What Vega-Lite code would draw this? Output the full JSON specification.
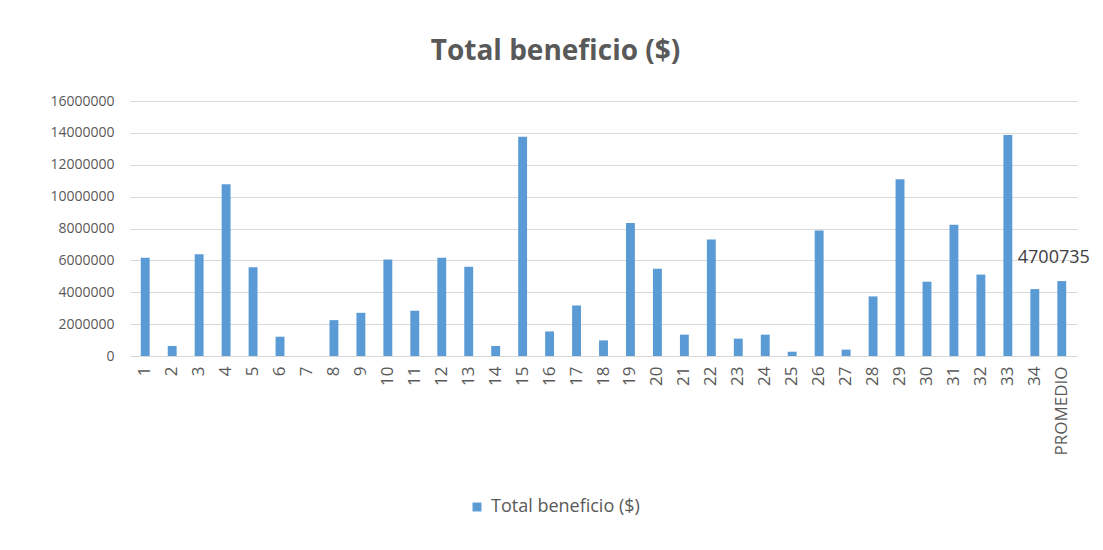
{
  "$schema": "https://vega.github.io/schema/vega-lite/v6.json",
  "autosize": {"type": "none"},
  "width": 947,
  "height": 255,
  "padding": {"left": 130, "top": 101, "right": 26, "bottom": 194},
  "background": "white",
  "title": {
    "text": "Total beneficio ($)",
    "font": "Open Sans",
    "fontSize": 28,
    "fontWeight": "bold",
    "color": "#595959",
    "anchor": "middle",
    "dx": -48,
    "offset": 28
  },
  "data": {
    "values": [
      {"k": "1", "v": 6160000, "s": "Total beneficio ($)"},
      {"k": "2", "v": 630000, "s": "Total beneficio ($)"},
      {"k": "3", "v": 6390000, "s": "Total beneficio ($)"},
      {"k": "4", "v": 10770000, "s": "Total beneficio ($)"},
      {"k": "5", "v": 5570000, "s": "Total beneficio ($)"},
      {"k": "6", "v": 1210000, "s": "Total beneficio ($)"},
      {"k": "7", "v": 0, "s": "Total beneficio ($)"},
      {"k": "8", "v": 2250000, "s": "Total beneficio ($)"},
      {"k": "9", "v": 2710000, "s": "Total beneficio ($)"},
      {"k": "10", "v": 6050000, "s": "Total beneficio ($)"},
      {"k": "11", "v": 2840000, "s": "Total beneficio ($)"},
      {"k": "12", "v": 6160000, "s": "Total beneficio ($)"},
      {"k": "13", "v": 5600000, "s": "Total beneficio ($)"},
      {"k": "14", "v": 630000, "s": "Total beneficio ($)"},
      {"k": "15", "v": 13760000, "s": "Total beneficio ($)"},
      {"k": "16", "v": 1540000, "s": "Total beneficio ($)"},
      {"k": "17", "v": 3170000, "s": "Total beneficio ($)"},
      {"k": "18", "v": 980000, "s": "Total beneficio ($)"},
      {"k": "19", "v": 8350000, "s": "Total beneficio ($)"},
      {"k": "20", "v": 5470000, "s": "Total beneficio ($)"},
      {"k": "21", "v": 1340000, "s": "Total beneficio ($)"},
      {"k": "22", "v": 7310000, "s": "Total beneficio ($)"},
      {"k": "23", "v": 1090000, "s": "Total beneficio ($)"},
      {"k": "24", "v": 1340000, "s": "Total beneficio ($)"},
      {"k": "25", "v": 270000, "s": "Total beneficio ($)"},
      {"k": "26", "v": 7870000, "s": "Total beneficio ($)"},
      {"k": "27", "v": 400000, "s": "Total beneficio ($)"},
      {"k": "28", "v": 3740000, "s": "Total beneficio ($)"},
      {"k": "29", "v": 11090000, "s": "Total beneficio ($)"},
      {"k": "30", "v": 4660000, "s": "Total beneficio ($)"},
      {"k": "31", "v": 8230000, "s": "Total beneficio ($)"},
      {"k": "32", "v": 5110000, "s": "Total beneficio ($)"},
      {"k": "33", "v": 13860000, "s": "Total beneficio ($)"},
      {"k": "34", "v": 4200000, "s": "Total beneficio ($)"},
      {"k": "PROMEDIO", "v": 4700735, "s": "Total beneficio ($)"}
    ]
  },
  "encoding": {
    "x": {
      "field": "k",
      "type": "ordinal",
      "sort": null,
      "scale": {"paddingInner": 0.67, "paddingOuter": 0.4},
      "axis": {
        "title": null,
        "labelAngle": -90,
        "labelFont": "Open Sans",
        "labelFontSize": 17,
        "labelColor": "#595959",
        "labelPadding": 10,
        "ticks": false,
        "domainColor": "#d9d9d9",
        "grid": false
      }
    },
    "y": {
      "field": "v",
      "type": "quantitative",
      "scale": {"domain": [0, 16000000]},
      "axis": {
        "title": null,
        "values": [0, 2000000, 4000000, 6000000, 8000000, 10000000, 12000000, 14000000, 16000000],
        "format": "d",
        "labelFont": "Open Sans",
        "labelFontSize": 14,
        "labelColor": "#595959",
        "labelPadding": 16,
        "ticks": false,
        "domain": false,
        "gridColor": "#d9d9d9",
        "gridWidth": 1
      }
    }
  },
  "layer": [
    {
      "mark": {"type": "bar"},
      "encoding": {
        "color": {
          "field": "s",
          "type": "nominal",
          "scale": {"range": ["#5B9BD5"]},
          "legend": {
            "title": null,
            "orient": "none",
            "legendX": 338,
            "legendY": 397,
            "symbolType": "square",
            "symbolSize": 80,
            "labelFont": "Open Sans",
            "labelFontSize": 18,
            "labelColor": "#595959",
            "labelOffset": 5
          }
        }
      }
    },
    {
      "transform": [{"filter": "datum.k == 'PROMEDIO'"}],
      "mark": {
        "type": "text",
        "font": "Open Sans",
        "fontSize": 18,
        "color": "#404040",
        "dx": -8,
        "dy": -14,
        "baseline": "bottom"
      },
      "encoding": {"text": {"field": "v", "type": "quantitative", "format": "d"}}
    }
  ],
  "config": {"view": {"stroke": null}}
}
